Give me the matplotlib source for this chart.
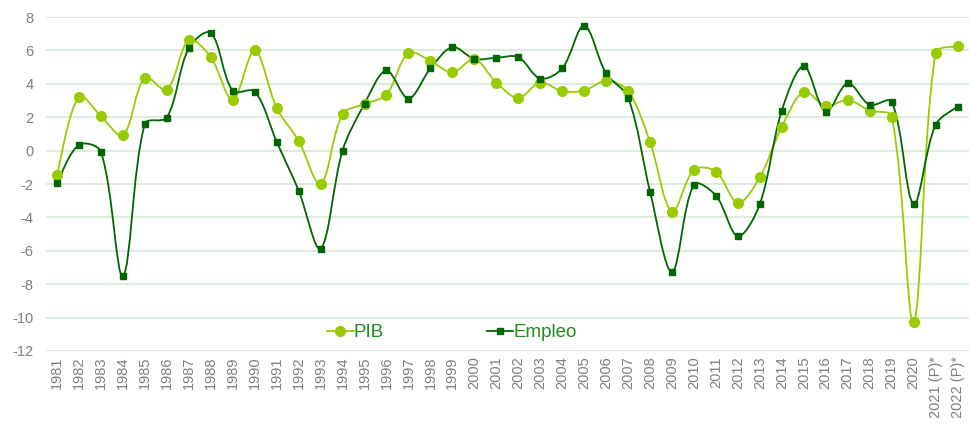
import matplotlib.pyplot as plt
import numpy as np
from matplotlib.path import Path
from matplotlib.patches import PathPatch

plt.rcParams['font.family'] = ['Liberation Sans', 'DejaVu Sans']
plt.rcParams['axes.unicode_minus'] = False

years = [str(y) for y in range(1981, 2021)] + ['2021 (P)*', '2022 (P)*']

pib = [-1.45, 3.24, 2.07, 0.91, 4.38, 3.64, 6.62, 5.6, 3.04, 6.0,
       2.56, 0.59, -2.0, 2.19, 2.79, 3.36, 5.86, 5.38, 4.68, 5.48,
       4.08, 3.15, 4.08, 3.56, 3.6, 4.18, 3.58, 0.51, -3.67, -1.15,
       -1.25, -3.13, -1.59, 1.43, 3.52, 2.67, 3.03, 2.4, 2.04, -10.28,
       5.86, 6.24]

empleo = [-1.91, 0.35, -0.07, -7.5, 1.62, 1.98, 6.14, 7.06, 3.58, 3.54,
          0.53, -2.39, -5.87, 0.0, 2.8, 4.8, 3.12, 4.92, 6.2, 5.5,
          5.56, 5.6, 4.32, 4.92, 7.48, 4.62, 3.18, -2.45, -7.26, -2.03,
          -2.69, -5.12, -3.19, 2.4, 5.06, 2.32, 4.04, 2.74, 2.94, -3.19,
          1.55, 2.64]

pib_color = '#99cc00'
empleo_color = '#006600'
grid_color = '#d5e8d4'
tick_color = '#7f7f7f'


def smooth_path(x, y, sx=22.0, sy=16.7):
    # smoothed line like office charts: bezier with tangents scaled by
    # the (pixel) length of the neighbouring segments
    x = np.asarray(x, float)
    y = np.asarray(y, float)
    n = len(x)
    seg = np.hypot(np.diff(x) * sx, np.diff(y) * sy)
    c_out = []
    c_in = []
    for i in range(n):
        i0 = max(i - 1, 0)
        i2 = min(i + 1, n - 1)
        tx, ty = x[i2] - x[i0], y[i2] - y[i0]
        lp = seg[i - 1] if i > 0 else 0.0
        ln = seg[i] if i < n - 1 else 0.0
        tot = lp + ln
        fo = ln / tot if tot else 0.0
        fi = lp / tot if tot else 0.0
        if i == 0 or i == n - 1:
            fo = fi = 0.5
        c_out.append((x[i] + tx * fo / 3, y[i] + ty * fo / 3))
        c_in.append((x[i] - tx * fi / 3, y[i] - ty * fi / 3))
    verts = [(x[0], y[0])]
    codes = [Path.MOVETO]
    for i in range(n - 1):
        verts += [c_out[i], c_in[i + 1], (x[i + 1], y[i + 1])]
        codes += [Path.CURVE4] * 3
    return Path(verts, codes)


fig = plt.figure(figsize=(9.69, 4.32), dpi=100)
ax = fig.add_axes([0.0475, 0.1875, 0.952, 0.773])

xs = np.arange(len(years))

for vals, col, mk, ms, label in [
        (pib, pib_color, 'o', 7, 'PIB'),
        (empleo, empleo_color, 's', 5, 'Empleo')]:
    ax.add_patch(PathPatch(smooth_path(xs, vals), facecolor='none',
                           edgecolor=col, lw=1.3, zorder=3))
    ax.plot(xs, vals, linestyle='none', marker=mk, markersize=ms,
            color=col, zorder=4)
    ax.plot([], [], color=col, marker=mk, markersize=ms, lw=1.3,
            label=label)

ax.set_xlim(-0.5, len(years) - 0.5)
ax.set_ylim(-12, 8)
ax.set_yticks(range(-12, 9, 2))
ax.set_xticks(xs)
ax.set_xticklabels(years, rotation=90)
ax.grid(axis='y', color=grid_color, lw=1.2)
ax.set_axisbelow(True)
for s in ax.spines.values():
    s.set_visible(False)
ax.tick_params(axis='both', length=0, colors=tick_color, labelsize=10.5)
ax.tick_params(axis='y', pad=9)
ax.tick_params(axis='x', pad=4)

leg = ax.legend(loc='center', bbox_to_anchor=(0.44, 0.055), ncol=2,
                frameon=False, fontsize=13.5, handlelength=1.4,
                handletextpad=0.0, columnspacing=5.5)
for t in leg.get_texts():
    t.set_color('#1f8a1f')

fig.savefig('out.png', dpi=100)
